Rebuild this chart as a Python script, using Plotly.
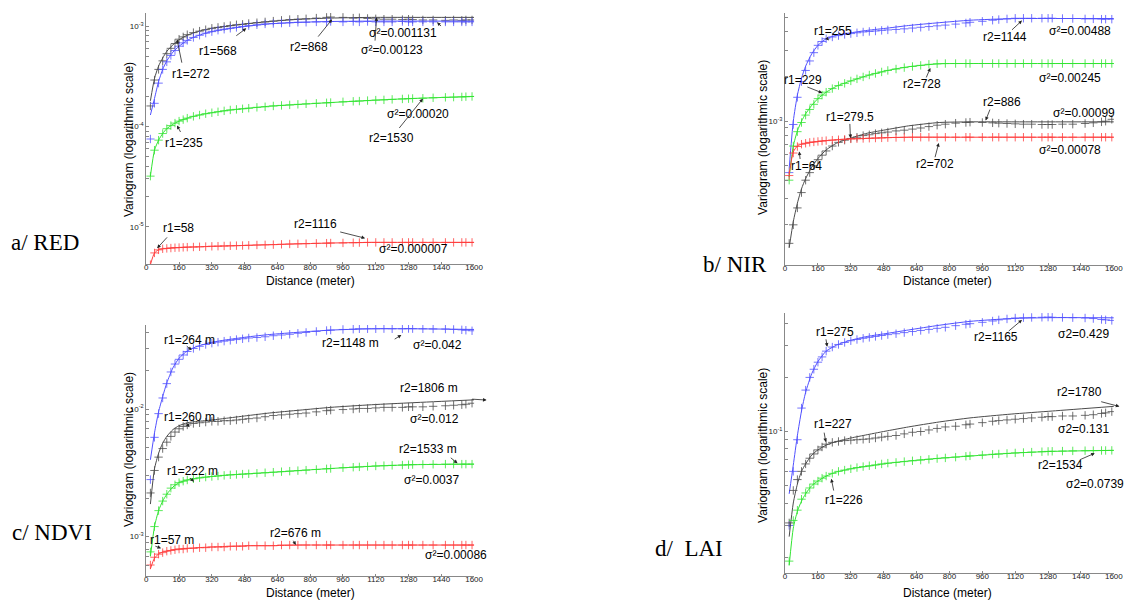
import plotly.graph_objects as go

W, H = 1139, 601

# ---------------- data ----------------
MARK_D = [20, 40, 60, 80, 100, 120, 140, 160, 180, 200,
          230, 260, 290, 320, 350, 380, 410, 440, 470, 500,
          540, 580, 620, 660, 700, 740, 780, 830, 880, 900,
          960, 1010, 1040, 1080, 1120, 1160, 1200, 1250, 1280, 1300,
          1350, 1400, 1460, 1500, 1540, 1560, 1590]
LINE_D = [20, 40, 60, 80, 100, 130, 160, 200, 250, 320, 400, 500, 600, 750, 900, 1100, 1300, 1600]
X_TICKS = [0, 160, 320, 480, 640, 800, 960, 1120, 1280, 1440, 1600]

# a/ RED  (units 1e-3, red in 1e-6)
A_UNIT, A_RED_UNIT = 1e-3, 1e-6
A_BLACK_PTS = [0.16, 0.29, 0.37, 0.45, 0.53, 0.60, 0.67, 0.74, 0.78, 0.82,
               0.86, 0.89, 0.92, 0.95, 0.97, 0.99, 1.01, 1.03, 1.04, 1.06,
               1.08, 1.10, 1.12, 1.14, 1.16, 1.17, 1.18, 1.20, 1.22, 1.23,
               1.22, 1.20, 1.21, 1.19, 1.18, 1.17, 1.17, 1.16, 1.17, 1.16,
               1.15, 1.15, 1.14, 1.15, 1.14, 1.15, 1.15]
A_BLUE_PTS = [0.075, 0.17, 0.27, 0.37, 0.44, 0.51, 0.57, 0.63, 0.68, 0.72,
              0.77, 0.81, 0.85, 0.88, 0.91, 0.93, 0.95, 0.97, 0.99, 1.01,
              1.03, 1.05, 1.06, 1.07, 1.08, 1.09, 1.09, 1.10, 1.10, 1.11,
              1.10, 1.11, 1.10, 1.11, 1.10, 1.10, 1.10, 1.11, 1.10, 1.10,
              1.10, 1.10, 1.10, 1.10, 1.10, 1.10, 1.10]
A_GREEN_PTS = [0.032, 0.058, 0.073, 0.085, 0.095, 0.102, 0.108, 0.113, 0.117, 0.121,
               0.126, 0.130, 0.134, 0.137, 0.140, 0.143, 0.146, 0.148, 0.150, 0.152,
               0.155, 0.157, 0.160, 0.162, 0.164, 0.166, 0.168, 0.170, 0.172, 0.173,
               0.176, 0.178, 0.179, 0.181, 0.183, 0.184, 0.186, 0.188, 0.189, 0.190,
               0.191, 0.193, 0.195, 0.196, 0.197, 0.198, 0.199]
A_RED_PTS = [4.2, 5.5, 5.9, 6.05, 6.1, 6.15, 6.2, 6.22, 6.25, 6.28,
             6.3, 6.33, 6.36, 6.4, 6.42, 6.45, 6.48, 6.5, 6.52, 6.55,
             6.6, 6.62, 6.65, 6.7, 6.75, 6.78, 6.8, 6.85, 6.88, 6.9,
             6.92, 6.95, 6.97, 7.0, 7.0, 7.0, 7.0, 7.0, 7.0, 7.0,
             7.0, 7.0, 7.0, 7.0, 7.0, 7.0, 7.0]
A_BLACK_FIT = [0.18, 0.30, 0.40, 0.48, 0.56, 0.65, 0.73, 0.81, 0.88, 0.95, 1.00, 1.06, 1.11, 1.17, 1.20, 1.22, 1.22, 1.22]
A_BLUE_FIT = [0.13, 0.19, 0.28, 0.37, 0.45, 0.55, 0.63, 0.72, 0.80, 0.88, 0.94, 1.00, 1.05, 1.09, 1.11, 1.12, 1.12, 1.12]
A_GREEN_FIT = [0.032, 0.058, 0.073, 0.085, 0.095, 0.105, 0.113, 0.121, 0.129, 0.137, 0.145, 0.152, 0.159, 0.166, 0.173, 0.182, 0.190, 0.199]
A_RED_FIT = [4.2, 5.5, 5.9, 6.05, 6.1, 6.18, 6.22, 6.28, 6.32, 6.4, 6.46, 6.55, 6.64, 6.78, 6.9, 7.0, 7.0, 7.0]

# b/ NIR  (units 1e-3)
B_UNIT = 1e-3
B_BLUE_PTS = [0.45, 0.95, 1.45, 1.85, 2.2, 2.55, 2.9, 3.25, 3.45, 3.6,
              3.7, 3.78, 3.85, 3.9, 3.95, 4.0, 4.03, 4.06, 4.1, 4.13,
              4.16, 4.2, 4.25, 4.3, 4.35, 4.4, 4.45, 4.52, 4.6, 4.65,
              4.72, 4.8, 4.85, 4.9, 4.95, 4.95, 4.95, 4.95, 4.95, 4.95,
              4.93, 4.93, 4.9, 4.9, 4.88, 4.88, 4.88]
B_GREEN_PTS = [0.40, 0.68, 0.85, 0.98, 1.10, 1.20, 1.30, 1.42, 1.50, 1.57,
               1.66, 1.74, 1.80, 1.87, 1.93, 1.99, 2.05, 2.10, 2.15, 2.20,
               2.25, 2.30, 2.34, 2.38, 2.42, 2.44, 2.45, 2.45, 2.45, 2.45,
               2.45, 2.45, 2.45, 2.45, 2.45, 2.45, 2.45, 2.45, 2.45, 2.45,
               2.45, 2.45, 2.45, 2.45, 2.45, 2.45, 2.45]
B_RED_PTS = [0.43, 0.61, 0.675, 0.70, 0.71, 0.72, 0.725, 0.73, 0.735, 0.74,
             0.745, 0.75, 0.755, 0.76, 0.762, 0.765, 0.768, 0.77, 0.772, 0.775,
             0.777, 0.778, 0.78, 0.78, 0.78, 0.78, 0.78, 0.78, 0.78, 0.78,
             0.78, 0.78, 0.78, 0.78, 0.78, 0.78, 0.78, 0.78, 0.78, 0.78,
             0.78, 0.78, 0.78, 0.78, 0.78, 0.78, 0.78]
B_BLACK_PTS = [0.15, 0.20, 0.26, 0.33, 0.40, 0.45, 0.50, 0.55, 0.59, 0.63,
               0.68, 0.72, 0.745, 0.765, 0.78, 0.80, 0.81, 0.825, 0.835, 0.845,
               0.86, 0.87, 0.885, 0.90, 0.92, 0.94, 0.955, 0.97, 0.98, 0.985,
               0.98, 0.975, 0.97, 0.965, 0.96, 0.955, 0.955, 0.95, 0.95, 0.95,
               0.955, 0.955, 0.965, 0.975, 0.99, 1.0, 1.03]
B_BLUE_FIT = [0.48, 1.0, 1.5, 1.95, 2.35, 2.85, 3.25, 3.6, 3.8, 3.95, 4.1, 4.25, 4.42, 4.62, 4.8, 4.92, 4.93, 4.93]
B_GREEN_FIT = [0.42, 0.68, 0.86, 1.0, 1.12, 1.28, 1.42, 1.57, 1.72, 1.87, 2.03, 2.2, 2.33, 2.44, 2.45, 2.45, 2.45, 2.45]
B_RED_FIT = [0.44, 0.62, 0.68, 0.70, 0.71, 0.72, 0.73, 0.74, 0.75, 0.76, 0.765, 0.775, 0.78, 0.78, 0.78, 0.78, 0.78, 0.78]
B_BLACK_FIT = [0.14, 0.21, 0.28, 0.35, 0.41, 0.49, 0.56, 0.64, 0.71, 0.77, 0.83, 0.88, 0.93, 0.98, 0.99, 0.99, 0.99, 0.99]

# c/ NDVI  (units 1e-3)
C_UNIT = 1e-3
C_BLUE_PTS = [2.8, 6.0, 9.2, 12.2, 15.8, 19.5, 22.5, 24.5, 26.5, 28.2,
              29.8, 31.0, 32.0, 32.8, 33.4, 34.0, 34.5, 35.0, 35.5, 36.0,
              36.3, 36.8, 37.5, 38.0, 38.5, 39.2, 39.8, 40.5, 41.2, 41.5,
              42.0, 42.2, 42.5, 42.5, 42.5, 42.6, 42.5, 42.5, 42.7, 42.6,
              42.5, 42.4, 42.3, 42.0, 41.7, 41.4, 41.0]
C_BLACK_PTS = [2.2, 3.3, 4.2, 4.9, 5.5, 6.1, 6.6, 7.0, 7.3, 7.5,
               7.7, 7.8, 7.9, 8.0, 8.0, 8.1, 8.1, 8.2, 8.3, 8.4,
               8.5, 8.7, 8.9, 9.0, 9.1, 9.2, 9.3, 9.5, 9.7, 9.8,
               9.9, 10.0, 10.1, 10.1, 10.2, 10.3, 10.3, 10.3, 10.4, 10.4,
               10.4, 10.5, 10.6, 10.7, 10.8, 10.9, 11.1]
C_GREEN_PTS = [0.76, 1.2, 1.6, 1.9, 2.15, 2.4, 2.55, 2.65, 2.72, 2.78,
               2.84, 2.89, 2.93, 2.96, 2.99, 3.02, 3.05, 3.07, 3.09, 3.11,
               3.14, 3.17, 3.20, 3.23, 3.26, 3.29, 3.32, 3.36, 3.40, 3.42,
               3.47, 3.50, 3.52, 3.55, 3.58, 3.60, 3.62, 3.64, 3.66, 3.67,
               3.68, 3.69, 3.70, 3.70, 3.70, 3.70, 3.70]
C_RED_PTS = [0.60, 0.69, 0.73, 0.75, 0.77, 0.78, 0.79, 0.80, 0.80, 0.81,
             0.81, 0.82, 0.82, 0.83, 0.83, 0.83, 0.84, 0.84, 0.84, 0.85,
             0.85, 0.85, 0.85, 0.86, 0.86, 0.86, 0.86, 0.86, 0.86, 0.86,
             0.86, 0.86, 0.86, 0.86, 0.86, 0.86, 0.86, 0.86, 0.86, 0.86,
             0.86, 0.86, 0.86, 0.86, 0.86, 0.86, 0.86]
C_BLUE_FIT = [4.0, 6.5, 9.5, 12.5, 16.0, 21.0, 25.0, 28.5, 31.0, 33.3, 35.0, 36.8, 38.3, 40.0, 41.5, 42.5, 42.5, 42.0]
C_BLACK_FIT = [1.8, 3.4, 4.5, 5.4, 6.1, 6.9, 7.4, 7.8, 8.0, 8.2, 8.5, 8.9, 9.3, 9.8, 10.3, 10.8, 11.2, 11.8]
C_GREEN_FIT = [0.70, 1.2, 1.6, 1.9, 2.15, 2.45, 2.65, 2.78, 2.87, 2.96, 3.04, 3.11, 3.18, 3.30, 3.42, 3.56, 3.66, 3.70]
C_RED_FIT = [0.56, 0.68, 0.73, 0.76, 0.77, 0.79, 0.80, 0.81, 0.82, 0.83, 0.84, 0.85, 0.85, 0.86, 0.86, 0.86, 0.86, 0.86]

# d/ LAI  (units 1)
D_UNIT = 1.0
D_BLUE_PTS = [0.030, 0.060, 0.090, 0.135, 0.170, 0.200, 0.222, 0.243, 0.260, 0.280,
              0.295, 0.305, 0.313, 0.320, 0.325, 0.330, 0.334, 0.338, 0.342, 0.346,
              0.350, 0.355, 0.360, 0.365, 0.370, 0.375, 0.380, 0.388, 0.395, 0.398,
              0.405, 0.412, 0.418, 0.423, 0.428, 0.430, 0.431, 0.432, 0.433, 0.432,
              0.431, 0.430, 0.428, 0.425, 0.420, 0.418, 0.415]
D_BLACK_PTS = [0.031, 0.047, 0.054, 0.060, 0.066, 0.071, 0.075, 0.079, 0.082, 0.085,
               0.087, 0.088, 0.089, 0.0895, 0.090, 0.0905, 0.091, 0.092, 0.093, 0.094,
               0.095, 0.097, 0.099, 0.100, 0.102, 0.104, 0.106, 0.107, 0.109, 0.110,
               0.112, 0.114, 0.115, 0.116, 0.117, 0.118, 0.119, 0.120, 0.121, 0.121,
               0.122, 0.122, 0.123, 0.124, 0.126, 0.127, 0.129]
D_GREEN_PTS = [0.019, 0.032, 0.0365, 0.042, 0.0455, 0.0485, 0.051, 0.053, 0.055, 0.0565,
               0.0585, 0.060, 0.061, 0.062, 0.063, 0.0638, 0.0645, 0.0652, 0.066, 0.0667,
               0.0673, 0.068, 0.0687, 0.0693, 0.070, 0.0707, 0.0713, 0.072, 0.0728, 0.0732,
               0.074, 0.0747, 0.075, 0.0755, 0.076, 0.0764, 0.0768, 0.0772, 0.0775, 0.0776,
               0.0778, 0.078, 0.0782, 0.0783, 0.0784, 0.0784, 0.0785]
D_BLUE_FIT = [0.045, 0.065, 0.095, 0.13, 0.165, 0.21, 0.245, 0.28, 0.302, 0.322, 0.338, 0.352, 0.367, 0.39, 0.41, 0.425, 0.43, 0.429]
D_BLACK_FIT = [0.026, 0.040, 0.051, 0.060, 0.066, 0.074, 0.079, 0.084, 0.088, 0.092, 0.096, 0.101, 0.106, 0.113, 0.119, 0.125, 0.130, 0.138]
D_GREEN_FIT = [0.018, 0.029, 0.036, 0.041, 0.045, 0.050, 0.053, 0.0565, 0.0595, 0.062, 0.064, 0.0665, 0.0685, 0.071, 0.073, 0.0757, 0.0775, 0.0785]

# annotation texts: (text, distance, log10 variogram)
A_TEXTS = [("r1=272", 219, -3.473), ("r1=568", 351, -3.247), ("r2=868", 794, -3.207),
           ("σ²=0.001131", 1253, -3.073), ("σ²=0.00123", 1197, -3.24), ("r1=235", 182, -4.167),
           ("σ²=0.00020", 1326, -3.873), ("r2=1530", 1197, -4.113), ("r1=58", 155, -5.007),
           ("r2=1116", 826, -4.967), ("σ²=0.000007", 1302, -5.217)]
A_ARROWS = [(175, -3.38, 150, -3.133), (432, -3.107, 488, -3.023), (833, -3.12, 907, -2.933),
            (1446, -3.013, 1419, -2.963), (1116, -3.16, 1124, -2.913), (171, -4.07, 150, -3.99),
            (1229, -4.03, 1350, -3.723), (108, -5.09, 53, -5.213), (939, -5.047, 1068, -5.113)]
B_TEXTS = [("r1=255", 234, -2.393), ("r1=229", 85, -2.72), ("r2=728", 668, -2.751),
           ("r2=1144", 1070, -2.429), ("σ²=0.00488", 1434, -2.393), ("σ²=0.00245", 1386, -2.708),
           ("r2=886", 1055, -2.873), ("σ²=0.00099", 1455, -2.945), ("r1=279.5", 315, -2.972),
           ("r1=64", 106, -3.305), ("r2=702", 728, -3.289), ("σ²=0.00078", 1386, -3.193)]
B_ARROWS = [(197, -2.429, 213, -2.456), (101, -2.765, 181, -2.809), (684, -2.715, 707, -2.641),
            (1097, -2.393, 1153, -2.321), (1000, -2.911, 976, -2.995), (315, -3.008, 318, -3.114),
            (74, -3.265, 69, -3.204), (728, -3.253, 748, -3.147)]
C_TEXTS = [("r1=264 m", 211, -1.46), ("r2=1148 m", 996, -1.485), ("σ²=0.042", 1422, -1.499),
           ("r2=1806 m", 1382, -1.838), ("σ²=0.012", 1406, -2.081), ("r1=260 m", 211, -2.065),
           ("r1=222 m", 227, -2.483), ("r2=1533 m", 1374, -2.313), ("σ²=0.0037", 1390, -2.556),
           ("r1=57 m", 126, -3.026), ("r2=676 m", 730, -2.973), ("σ²=0.00086", 1511, -3.143)]
C_ARROWS = [(190, -1.499, 222, -1.538), (1205, -1.46, 1245, -1.42), (1583, -1.922, 1661, -1.93),
            (190, -2.099, 211, -2.143), (206, -2.53, 233, -2.569), (1479, -2.373, 1519, -2.425),
            (37, -3.07, 72, -3.091), (713, -3.02, 730, -3.065)]
D_TEXTS = [("r1=275", 242, -0.448), ("r2=1165", 1025, -0.476), ("σ2=0.429", 1451, -0.457),
           ("r2=1780", 1434, -0.782), ("σ2=0.131", 1451, -0.985), ("r1=227", 234, -0.961),
           ("r1=226", 286, -1.379), ("r2=1534", 1338, -1.189), ("σ2=0.0739", 1507, -1.291)]
D_ARROWS = [(198, -0.479, 205, -0.528), (1081, -0.448, 1153, -0.379), (1531, -0.832, 1627, -0.861),
            (189, -0.998, 198, -1.059), (238, -1.337, 225, -1.263), (1427, -1.161, 1507, -1.121)]

# ---------------- style ----------------
BLUE = "rgb(80,80,255)"
GREEN = "rgb(50,228,50)"
RED = "rgb(255,60,60)"
BLACK = "rgb(75,75,75)"
SANS = "Liberation Sans, Arial, sans-serif"
SERIF = "Liberation Serif, Times New Roman, serif"


def px_dom_x(a, b):
    return [a / W, b / W]


def px_dom_y(top, bottom):
    return [1 - bottom / H, 1 - top / H]


PANELS = [
    dict(n="", dx=px_dom_x(145.7, 476.7), dy=px_dom_y(13, 264), yr=[-5.37, -2.87], decs=[-5, -4, -3],
         series=[(BLACK, A_BLACK_PTS, A_BLACK_FIT, A_UNIT), (BLUE, A_BLUE_PTS, A_BLUE_FIT, A_UNIT),
                 (GREEN, A_GREEN_PTS, A_GREEN_FIT, A_UNIT), (RED, A_RED_PTS, A_RED_FIT, A_RED_UNIT)],
         texts=A_TEXTS, arrows=A_ARROWS, label="a/ RED", lab=(7, 243),
         xt=(311.7, 281), yt=(128.3, 140)),
    dict(n="2", dx=px_dom_x(790.7, 1122.7), dy=px_dom_y(13, 265), yr=[-3.97, -2.27], decs=[-4, -3],
         series=[(BLUE, B_BLUE_PTS, B_BLUE_FIT, B_UNIT), (GREEN, B_GREEN_PTS, B_GREEN_FIT, B_UNIT),
                 (BLACK, B_BLACK_PTS, B_BLACK_FIT, B_UNIT), (RED, B_RED_PTS, B_RED_FIT, B_UNIT)],
         texts=B_TEXTS, arrows=B_ARROWS, label="b/ NIR", lab=(706, 264),
         xt=(955, 281), yt=(768.3, 137)),
    dict(n="3", dx=px_dom_x(145.7, 476.7), dy=px_dom_y(325, 576), yr=[-3.308, -1.342], decs=[-4, -3, -2],
         series=[(BLUE, C_BLUE_PTS, C_BLUE_FIT, C_UNIT), (BLACK, C_BLACK_PTS, C_BLACK_FIT, C_UNIT),
                 (GREEN, C_GREEN_PTS, C_GREEN_FIT, C_UNIT), (RED, C_RED_PTS, C_RED_FIT, C_UNIT)],
         texts=C_TEXTS, arrows=C_ARROWS, label="c/ NDVI", lab=(8, 532),
         xt=(311.7, 593), yt=(128.3, 450)),
    dict(n="4", dx=px_dom_x(790.7, 1122.7), dy=px_dom_y(312.7, 573.3), yr=[-1.789, -0.339], decs=[-2, -1],
         series=[(BLUE, D_BLUE_PTS, D_BLUE_FIT, D_UNIT), (BLACK, D_BLACK_PTS, D_BLACK_FIT, D_UNIT),
                 (GREEN, D_GREEN_PTS, D_GREEN_FIT, D_UNIT)],
         texts=D_TEXTS, arrows=D_ARROWS, label="d/  LAI", lab=(657, 548),
         xt=(955, 592.5), yt=(768.3, 445)),
]

fig = go.Figure()
annotations = []
layout = dict(width=W, height=H, margin=dict(l=0, r=0, t=0, b=0), paper_bgcolor="white",
              plot_bgcolor="white", showlegend=False, hovermode=False)

for p in PANELS:
    xa, ya = "x" + p["n"], "y" + p["n"]
    for col, pts, fit, unit in p["series"]:
        fig.add_trace(go.Scatter(x=LINE_D, y=[v * unit for v in fit], mode="lines",
                                 line=dict(color=col, width=1, shape="spline", smoothing=0.6),
                                 xaxis=xa, yaxis=ya))
        fig.add_trace(go.Scatter(x=MARK_D, y=[v * unit for v in pts], mode="markers",
                                 marker=dict(symbol="cross-thin", size=6, color=col,
                                             line=dict(color=col, width=0.8)),
                                 xaxis=xa, yaxis=ya))
    tvals, ttext = [], []
    for e in p["decs"]:
        for m in range(1, 10):
            tvals.append(m * 10.0 ** e)
            ttext.append("10<sup>%d</sup>" % e if m == 1 else "")
    layout["xaxis" + p["n"]] = dict(domain=p["dx"], anchor=ya, range=[0, 1600], tickvals=X_TICKS,
                                    ticktext=[str(t) for t in X_TICKS], showgrid=False, zeroline=False,
                                    showline=True, linecolor="#888", linewidth=1, ticks="inside",
                                    ticklen=2, tickcolor="#888", ticklabelstandoff=-5,
                                    tickfont=dict(family=SANS, size=8, color="#222"))
    layout["yaxis" + p["n"]] = dict(domain=p["dy"], anchor=xa, type="log", range=p["yr"],
                                    tickvals=tvals, ticktext=ttext, showgrid=False, zeroline=False,
                                    showline=True, linecolor="#888", linewidth=1, ticks="inside",
                                    ticklen=3, tickcolor="#888",
                                    tickfont=dict(family=SANS, size=8, color="#222"))
    for text, d, lv in p["texts"]:
        annotations.append(dict(x=d, y=lv, xref=xa, yref=ya, text=text, showarrow=False,
                                xanchor="center", yanchor="middle",
                                font=dict(family=SANS, size=12, color="black")))
    for td, tl, hd, hl in p["arrows"]:
        annotations.append(dict(x=hd, y=hl, xref=xa, yref=ya, ax=td, ay=tl, axref=xa, ayref=ya,
                                text="", showarrow=True, arrowhead=2, arrowsize=0.9,
                                arrowwidth=0.8, arrowcolor="#222", standoff=0, startstandoff=0))
    annotations.append(dict(x=p["xt"][0] / W, y=1 - p["xt"][1] / H, xref="paper", yref="paper",
                            xanchor="center", yanchor="middle",
                            text="Distance (meter)", showarrow=False,
                            font=dict(family=SANS, size=12, color="black")))
    annotations.append(dict(x=p["yt"][0] / W, y=1 - p["yt"][1] / H, xref="paper", yref="paper",
                            xanchor="center", yanchor="middle",
                            text="Variogram (logarithmic scale)", textangle=-90, showarrow=False,
                            font=dict(family=SANS, size=12, color="black")))
    annotations.append(dict(x=p["lab"][0] / W, y=1 - p["lab"][1] / H, xref="paper", yref="paper",
                            xanchor="left", yanchor="middle", text=p["label"], showarrow=False,
                            font=dict(family=SERIF, size=23, color="black")))

layout["annotations"] = annotations
fig.update_layout(**layout)
fig.write_html("out.html", config={"displayModeBar": False},
               post_script="document.body.style.margin='0';document.body.style.overflow='hidden';")
